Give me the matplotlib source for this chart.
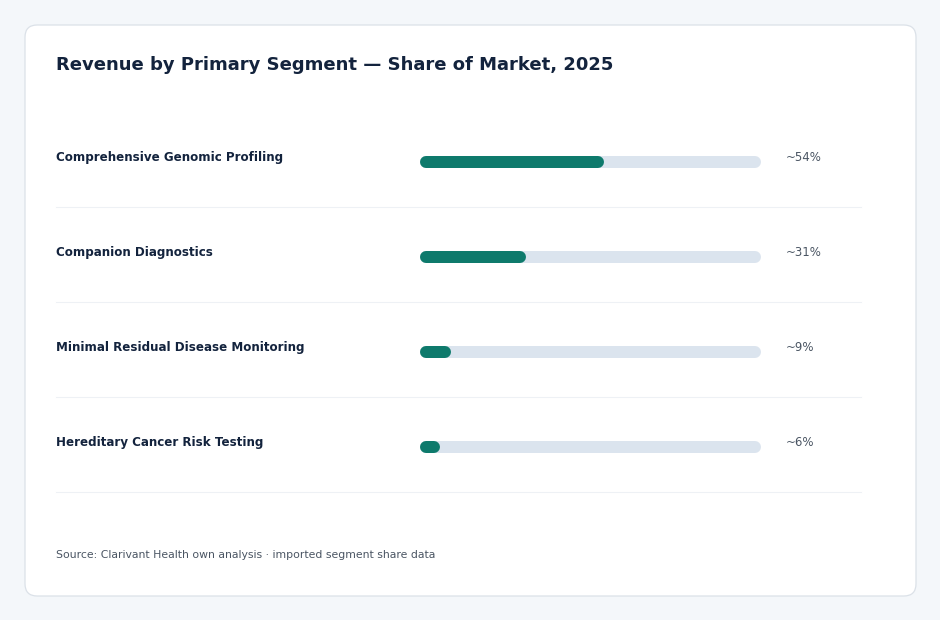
import matplotlib.pyplot as plt
from matplotlib.patches import FancyBboxPatch
from matplotlib.transforms import blended_transform_factory

# data
segments = ['Comprehensive Genomic Profiling', 'Companion Diagnostics',
            'Minimal Residual Disease Monitoring', 'Hereditary Cancer Risk Testing']
shares = [54, 31, 9, 6]
share_labels = ['~54%', '~31%', '~9%', '~6%']

W, H = 940, 620
fig = plt.figure(figsize=(W / 100, H / 100), dpi=100)
fig.patch.set_facecolor('#f4f7fa')


def fx(x):
    return x / W


def fy(y):
    return 1 - y / H


# card
card = FancyBboxPatch((fx(25), fy(596)), fx(891), (571) / H,
                      boxstyle='round,pad=0,rounding_size=0.013',
                      mutation_aspect=W / H,
                      transform=fig.transFigure, facecolor='white',
                      edgecolor='#dbe1e8', linewidth=0.9, zorder=-5)
fig.patches.append(card)

fig.text(fx(56), fy(65), 'Revenue by Primary Segment \u2014 Share of Market, 2025',
         fontsize=13, fontweight='bold', color='#13233d', va='center', ha='left')

# bar axes: x = share (%), rows 95 px apart
ax = fig.add_axes([fx(420), fy(494.5), (761 - 420) / W, 380 / H])
ax.set_xlim(0, 100)
ax.set_ylim(3.5, -0.5)
ax.axis('off')
ax.set_zorder(2)

bar_px = 12
lw = bar_px * 72 / 100
r = (bar_px / 2) / (341 / 100)  # cap radius in data units

blend = blended_transform_factory(fig.transFigure, ax.transData)

for i, (name, v, lab) in enumerate(zip(segments, shares, share_labels)):
    ax.plot([r, 100 - r], [i, i], color='#dbe4ee', lw=lw,
            solid_capstyle='round', clip_on=False, zorder=1)
    ax.plot([r, v - r], [i, i], color='#0e7a6c', lw=lw,
            solid_capstyle='round', clip_on=False, zorder=2)
    ax.text(fx(56), i - 0.045, name, transform=blend, fontsize=8.6,
            fontweight='bold', color='#13233d', va='center', ha='left')
    ax.text(fx(786), i - 0.045, lab, transform=blend, fontsize=8.5,
            color='#4a5563', va='center', ha='left')
    ax.plot([fx(56), fx(861)], [i + 0.475, i + 0.475], transform=blend,
            color='#eef1f5', lw=0.8, clip_on=False, zorder=0)

fig.text(fx(56), fy(555), 'Source: Clarivant Health own analysis \u00b7 imported segment share data',
         fontsize=7.85, color='#4a5563', va='center', ha='left')

fig.savefig('out.png', dpi=100, facecolor=fig.get_facecolor())
